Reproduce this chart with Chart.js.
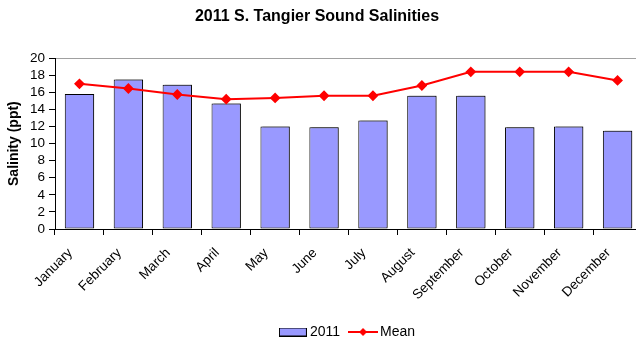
<!DOCTYPE html>
<html>
<head>
<meta charset="utf-8">
<script src="https://cdn.jsdelivr.net/npm/chart.js@4"></script>
<style>
html,body{margin:0;padding:0;background:#fff;overflow:hidden;width:636px;height:343px;}
#wrap{position:relative;width:660px;height:343px;}
</style>
</head>
<body>
<div id="wrap"><canvas id="c" width="660" height="343"></canvas></div>
<script>
const months = ["January","February","March","April","May","June","July","August","September","October","November","December"];
const salinity2011 = [15.8, 17.5, 16.9, 14.7, 12.0, 11.9, 12.7, 15.6, 15.6, 11.9, 12.0, 11.5];
const salinityMean = [17.0, 16.45, 15.75, 15.2, 15.35, 15.6, 15.6, 16.8, 18.4, 18.4, 18.4, 17.4];
const yTicks = [0, 2, 4, 6, 8, 10, 12, 14, 16, 18, 20];

const FONT = "'Liberation Sans', Arial, sans-serif";
const BAR_COLOR = '#9999FF';
const LINE_COLOR = '#FF0000';

function barSwatch() {
  const c = document.createElement('canvas');
  c.width = 28; c.height = 9;
  const x = c.getContext('2d');
  x.fillStyle = BAR_COLOR; x.fillRect(0.5, 0.5, 27, 8);
  x.strokeStyle = '#000'; x.lineWidth = 1; x.strokeRect(0.5, 0.5, 27, 8);
  return c;
}
function lineSwatch() {
  const c = document.createElement('canvas');
  c.width = 30; c.height = 10;
  const x = c.getContext('2d');
  x.strokeStyle = LINE_COLOR; x.lineWidth = 2;
  x.beginPath(); x.moveTo(0, 5); x.lineTo(30, 5); x.stroke();
  x.fillStyle = LINE_COLOR;
  x.beginPath(); x.moveTo(15, 1); x.lineTo(19, 5); x.lineTo(15, 9); x.lineTo(11, 5); x.closePath(); x.fill();
  return c;
}

const shiftPlugin = {
  id: 'shiftBoxes',
  afterLayout(chart) {
    if (chart.legend) {
      chart.legend.left += 28; chart.legend.right += 28;
      chart.legend.top += 6; chart.legend.bottom += 6;
    }
    if (chart.titleBlock) { chart.titleBlock.left -= 4; chart.titleBlock.right -= 4; }
  },
  beforeDatasetDraw(chart, args) {
    if (args.meta.type === 'bar') {
      const ctx = chart.ctx;
      ctx.save();
      ctx.shadowColor = 'rgba(0,0,0,0.35)';
      ctx.shadowOffsetX = 2;
      ctx.shadowOffsetY = -1;
      ctx.shadowBlur = 0;
    }
  },
  afterDatasetDraw(chart, args) {
    if (args.meta.type === 'bar') chart.ctx.restore();
  }
};

new Chart(document.getElementById('c'), {
  data: {
    labels: months,
    datasets: [
      {
        type: 'line', label: 'Mean', data: salinityMean, order: 0,
        borderColor: LINE_COLOR, backgroundColor: LINE_COLOR, borderWidth: 2,
        pointStyle: 'rectRot', pointRadius: 4, pointHoverRadius: 4,
        pointBackgroundColor: LINE_COLOR, pointBorderColor: LINE_COLOR, tension: 0
      },
      {
        type: 'bar', label: '2011', data: salinity2011, order: 1,
        backgroundColor: BAR_COLOR, borderColor: '#000000', borderWidth: 1,
        borderSkipped: false,
        barPercentage: 0.6, categoryPercentage: 1.0
      }
    ]
  },
  options: {
    responsive: false,
    animation: false,
    devicePixelRatio: 1,
    layout: { padding: { top: 0, bottom: 0, left: 0, right: 18 } },
    plugins: {
      title: {
        display: true, text: '2011 S. Tangier Sound Salinities', color: '#000',
        font: { family: FONT, size: 16, weight: 'bold' },
        padding: { top: 7, bottom: 32 }
      },
      legend: {
        position: 'bottom',
        labels: {
          usePointStyle: true, pointStyleWidth: 20, boxHeight: 10,
          padding: 13, color: '#000',
          font: { family: FONT, size: 14 },
          generateLabels(chart) {
            return [
              { text: '2011', pointStyle: barSwatch(), datasetIndex: 1, fontColor: '#000', lineWidth: 0, strokeStyle: 'transparent', fillStyle: BAR_COLOR },
              { text: 'Mean', pointStyle: lineSwatch(), datasetIndex: 0, fontColor: '#000', lineWidth: 0, strokeStyle: 'transparent', fillStyle: LINE_COLOR }
            ];
          }
        }
      },
      tooltip: { enabled: false }
    },
    scales: {
      x: {
        offset: true,
        grid: { display: true, offset: true, drawOnChartArea: false, drawTicks: true, tickLength: 6, color: '#000', tickColor: '#000' },
        border: { display: true, color: '#000', width: 1 },
        ticks: { color: '#000', font: { family: FONT, size: 13.5 }, maxRotation: 45, minRotation: 45, autoSkip: false, padding: 10, labelOffset: -9 },
        afterFit(s) { s.height = 77; }
      },
      y: {
        min: 0, max: 20,
        afterBuildTicks(s) { s.ticks = yTicks.map(v => ({ value: v })); },
        grid: {
          drawOnChartArea: true, drawTicks: true, tickLength: 6,
          color: ctx => (ctx.tick && ctx.tick.value === 20) ? '#A0A0A0' : 'rgba(0,0,0,0)',
          tickColor: '#000'
        },
        border: { display: true, color: '#000', width: 1 },
        ticks: { color: '#000', font: { family: FONT, size: 13.5 }, padding: 4, autoSkip: false },
        title: {
          display: true, text: 'Salinity (ppt)', color: '#000',
          font: { family: FONT, size: 14, weight: 'bold' },
          padding: { top: 6, bottom: 0 }
        },
        afterFit(s) { s.width = 55; }
      }
    }
  },
  plugins: [shiftPlugin]
});
</script>
</body>
</html>
